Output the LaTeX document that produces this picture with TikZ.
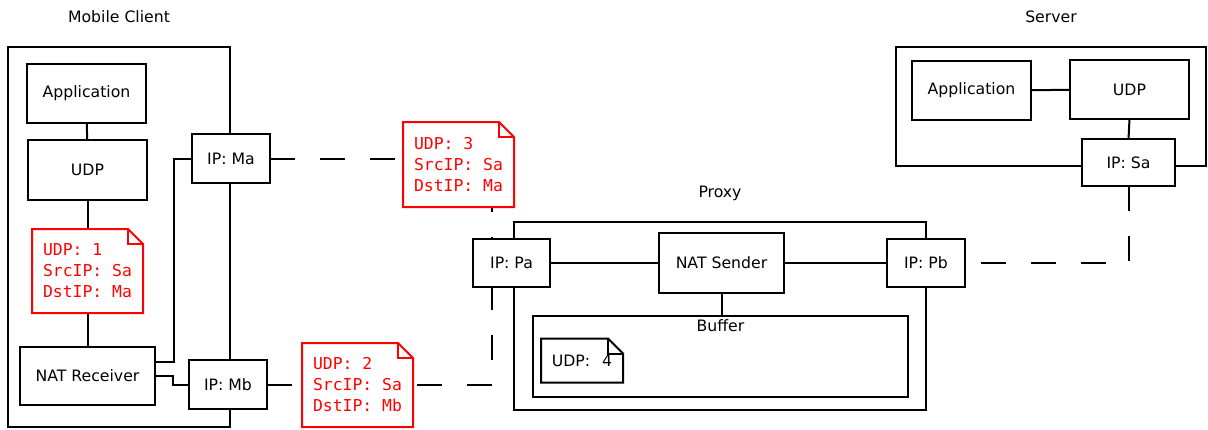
\documentclass[tikz,border=0pt]{standalone}
\usepackage{fontspec}
\setmainfont{DejaVu Sans}
\setmonofont{DejaVu Sans Mono}
\usetikzlibrary{backgrounds}
\newcommand\dogear[2]{%
  \draw[#2] (#1.north west) -- ([xshift=-15pt]#1.north east) -- ([yshift=-15pt]#1.north east) -- (#1.south east) -- (#1.south west) -- cycle;
  \draw[#2] ([xshift=-15pt]#1.north east) |- ([yshift=-15pt]#1.north east);}
\begin{document}
\begin{tikzpicture}[x=1pt,y=-1pt, line width=2pt, line join=miter,
  box/.style={draw, fill=white, rectangle, inner sep=0pt, outer sep=0pt, line width=2pt, font=\fontsize{15.7}{18}\selectfont},
  pkt/.style={fill=white, rectangle, inner sep=0pt, outer sep=0pt, align=left, text=red, font=\ttfamily\fontsize{16.4}{21}\selectfont},
  pktline/.style={draw=red, line width=2pt},
  link/.style={draw, line width=2pt},
  container/.style={draw, line width=2pt},
  net/.style={draw, line width=2pt, dash pattern=on 25pt off 25pt},
  title/.style={font=\fontsize{15.7}{18}\selectfont, inner sep=0pt}]
\useasboundingbox (0,0) rectangle (1208,429);

% titles
\node[title] (tMC) at (119,17) {Mobile Client};
\node[title] (tSV) at (1051,17) {Server};
\node[title] (tPX) at (720,193) {Proxy};

% Mobile client
\node[box, minimum width=119pt, minimum height=59pt] (mcApp) at (86.5,93.5) {Application};
\node[box, minimum width=119pt, minimum height=60pt] (mcUDP) at (87.5,170) {UDP};
\node[pkt, minimum width=111pt, minimum height=84pt] (pk1) at (87.5,271) {UDP: 1\\SrcIP: Sa\\DstIP: Ma};
\node[box, minimum width=135pt, minimum height=58pt] (natR) at (87.5,376) {NAT Receiver};
\node[box, minimum width=78pt, minimum height=49pt] (ipMa) at (231,158.5) {IP: Ma};
\node[box, minimum width=78pt, minimum height=49pt] (ipMb) at (228,384.5) {IP: Mb};

% packets on the wire
\node[pkt, minimum width=111pt, minimum height=85pt] (pk3) at (458.5,164.5) {UDP: 3\\SrcIP: Sa\\DstIP: Ma};
\node[pkt, minimum width=111pt, minimum height=84pt] (pk2) at (357.5,385) {UDP: 2\\SrcIP: Sa\\DstIP: Mb};

% Proxy
\node[box, minimum width=77pt, minimum height=48pt] (ipPa) at (511.5,263) {IP: Pa};
\node[box, minimum width=125pt, minimum height=60pt] (natS) at (721.5,263) {NAT Sender};
\node[box, minimum width=78pt, minimum height=48pt] (ipPb) at (926,263) {IP: Pb};
\node[box, minimum width=375pt, minimum height=81pt] (buf) at (720.5,356.5) {};
\node[title, anchor=north] (tBuf) at (buf.north) {\raisebox{0pt}[14pt][3pt]{Buffer}};
\node[box, draw=none, minimum width=82pt, minimum height=44pt] (pk4) at (582,360.5) {UDP:\hspace{12pt}4};

% Server
\node[box, minimum width=119pt, minimum height=59pt] (sApp) at (971.5,90.5) {Application};
\node[box, minimum width=119pt, minimum height=59pt] (sUDP) at (1129.5,89.5) {UDP};
\node[box, minimum width=93pt, minimum height=47pt] (ipSa) at (1128.5,162.5) {IP: Sa};

% packet outlines
\dogear{pk1}{pktline}
\dogear{pk2}{pktline}
\dogear{pk3}{pktline}
\dogear{pk4}{link}

\begin{scope}[on background layer]
  % containers
  \draw[container] (8,47) rectangle (230,427);
  \draw[container] (514,222) rectangle (926,410);
  \draw[container] (896,47) rectangle (1206,166);
  % internal links
  \draw[link] (mcApp) -- (mcUDP);
  \draw[link] (mcUDP) -- (pk1);
  \draw[link] (pk1) -- (natR);
  \draw[link] ([yshift=14pt]natR.east) -- ++(19pt,0) |- (ipMa.west);
  \draw[link] (natR.east) -- ++(18pt,0) |- (ipMb.west);
  \draw[link] (ipPa) -- (natS);
  \draw[link] (natS) -- (ipPb);
  \draw[link] (natS.south) -- (natS.south |- buf.north);
  \draw[link] (sApp) -- (sUDP);
  \draw[link] (sUDP.south) -- (ipSa.north);
  % network links
  \draw[net] (ipMa.east) -| ([xshift=-19.5pt]ipPa.north);
  \draw[net] (ipMb.east) -| ([xshift=-19.5pt]ipPa.south);
  \draw[net] (ipSa.south) |- (ipPb.east);
\end{scope}
\end{tikzpicture}
\end{document}
